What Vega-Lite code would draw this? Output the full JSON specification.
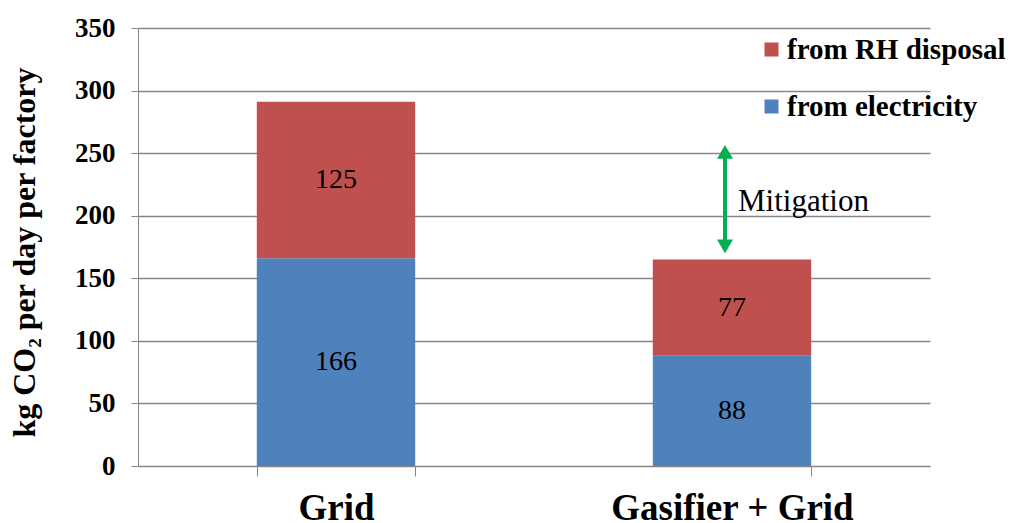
{
  "$schema": "https://vega.github.io/schema/vega-lite/v6.json",
  "width": 792,
  "height": 438,
  "autosize": {"type": "none"},
  "padding": {"left": 138, "top": 28, "right": 80, "bottom": 57},
  "background": "white",
  "config": {
    "view": {"stroke": null},
    "font": "Liberation Serif",
    "axis": {"labelFont": "Liberation Serif", "titleFont": "Liberation Serif"},
    "legend": {"labelFont": "Liberation Serif"}
  },
  "datasets": {
    "emissions": [
      {"scenario": "Grid", "source": "from electricity", "k": 1, "value": 166},
      {"scenario": "Grid", "source": "from RH disposal", "k": 2, "value": 125},
      {"scenario": "Gasifier + Grid", "source": "from electricity", "k": 1, "value": 88},
      {"scenario": "Gasifier + Grid", "source": "from RH disposal", "k": 2, "value": 77}
    ],
    "arrow": [
      {"scenario": "Gasifier + Grid", "lo": 174, "hi": 252}
    ],
    "heads": [
      {"scenario": "Gasifier + Grid", "tip": 251, "dir": "up"},
      {"scenario": "Gasifier + Grid", "tip": 175.5, "dir": "down"}
    ],
    "note": [
      {"scenario": "Gasifier + Grid", "v": 211, "label": "Mitigation"}
    ]
  },
  "layer": [
    {
      "data": {"name": "emissions"},
      "transform": [
        {"stack": "value", "groupby": ["scenario"], "sort": [{"field": "k"}], "as": ["v0", "v1"]}
      ],
      "mark": {"type": "bar"},
      "encoding": {
        "x": {
          "field": "scenario",
          "type": "nominal",
          "sort": ["Grid", "Gasifier + Grid"],
          "scale": {"paddingInner": 0.6, "paddingOuter": 0.3},
          "axis": {
            "title": null,
            "labelAngle": 0,
            "labelLimit": 0,
            "tickBand": "extent",
            "labelFontSize": 37,
            "labelFontWeight": "bold",
            "labelColor": "black",
            "labelPadding": 14,
            "tickSize": 10,
            "tickColor": "#868686",
            "domainColor": "#868686",
            "grid": false
          }
        },
        "y": {
          "field": "v1",
          "type": "quantitative",
          "scale": {"domain": [0, 350], "nice": false},
          "axis": {
            "values": [0, 50, 100, 150, 200, 250, 300, 350],
            "title": "kg CO₂ per day per factory",
            "titleFontSize": 32,
            "titleFontWeight": "bold",
            "titleColor": "black",
            "titlePadding": 33,
            "titleY": 224,
            "labelFontSize": 27,
            "labelFontWeight": "bold",
            "labelColor": "black",
            "labelPadding": 16,
            "tickSize": 7,
            "tickColor": "#868686",
            "domainColor": "#868686",
            "grid": true,
            "gridColor": "#868686",
            "gridWidth": 1.3
          }
        },
        "y2": {"field": "v0"},
        "color": {
          "field": "source",
          "type": "nominal",
          "scale": {"domain": ["from RH disposal", "from electricity"], "range": ["#C0504D", "#4F81BD"]},
          "legend": {
            "orient": "none",
            "legendX": 619,
            "legendY": 7,
            "title": null,
            "symbolType": "square",
            "symbolSize": 196,
            "symbolStrokeWidth": 0,
            "symbolOpacity": 1,
            "labelFontSize": 29,
            "labelFontWeight": "bold",
            "labelColor": "black",
            "labelLimit": 0,
            "labelOffset": 1,
            "rowPadding": 27,
            "padding": 0
          }
        }
      }
    },
    {
      "data": {"name": "emissions"},
      "transform": [
        {"stack": "value", "groupby": ["scenario"], "sort": [{"field": "k"}], "as": ["v0", "v1"]},
        {"fold": ["v0", "v1"], "as": ["edge", "pos"]},
        {"aggregate": [{"op": "mean", "field": "pos", "as": "mid"}], "groupby": ["scenario", "source", "value"]}
      ],
      "mark": {"type": "text", "fontSize": 28, "color": "black", "baseline": "middle", "align": "center"},
      "encoding": {
        "x": {"field": "scenario", "type": "nominal", "sort": ["Grid", "Gasifier + Grid"]},
        "y": {"field": "mid", "type": "quantitative"},
        "text": {"field": "value", "type": "quantitative"}
      }
    },
    {
      "data": {"name": "arrow"},
      "mark": {"type": "rule", "color": "#00B050", "strokeWidth": 4, "xOffset": -7},
      "encoding": {
        "x": {"field": "scenario", "type": "nominal", "sort": ["Grid", "Gasifier + Grid"]},
        "y": {"field": "lo", "type": "quantitative"},
        "y2": {"field": "hi"}
      }
    },
    {
      "data": {"name": "heads"},
      "mark": {"type": "point", "filled": true, "opacity": 1, "color": "#00B050", "size": 256, "xOffset": -7},
      "encoding": {
        "x": {"field": "scenario", "type": "nominal", "sort": ["Grid", "Gasifier + Grid"]},
        "y": {"field": "tip", "type": "quantitative"},
        "shape": {
          "field": "dir",
          "type": "nominal",
          "scale": {"domain": ["up", "down"], "range": ["triangle-up", "triangle-down"]},
          "legend": null
        }
      }
    },
    {
      "data": {"name": "note"},
      "mark": {"type": "text", "fontSize": 31, "color": "black", "align": "left", "baseline": "middle", "dx": 6},
      "encoding": {
        "x": {"field": "scenario", "type": "nominal", "sort": ["Grid", "Gasifier + Grid"]},
        "y": {"field": "v", "type": "quantitative"},
        "text": {"field": "label"}
      }
    }
  ]
}
